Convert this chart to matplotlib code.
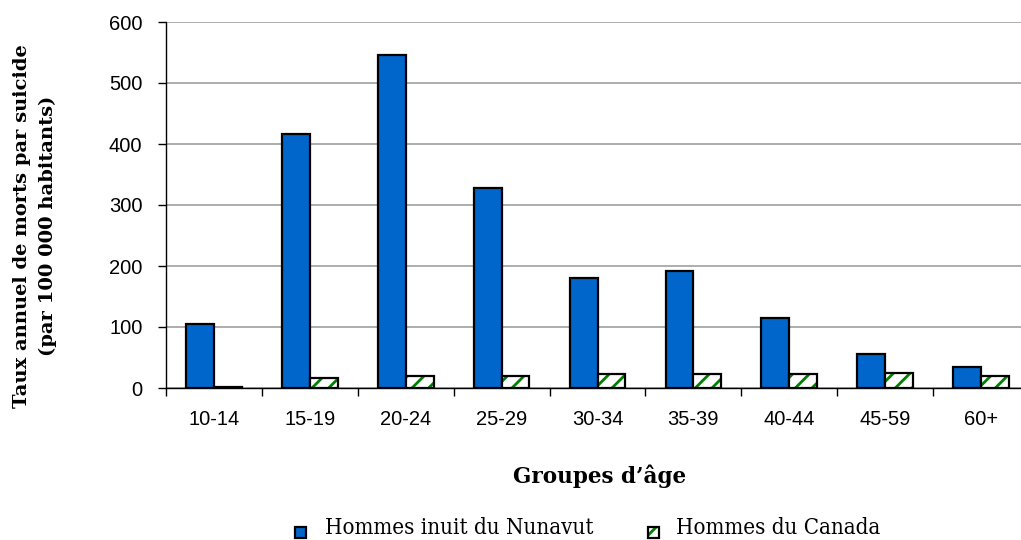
import matplotlib
matplotlib.use("Agg")
import matplotlib.pyplot as plt
import numpy as np
from matplotlib.patches import Rectangle
from matplotlib.font_manager import FontProperties, findfont

categories = ["10-14", "15-19", "20-24", "25-29", "30-34", "35-39", "40-44", "45-59", "60+"]
inuit = [105, 416, 546, 328, 180, 192, 115, 56, 34]
canada = [2, 16, 19, 20, 23, 23, 23, 24, 19]
series_names = ["Hommes inuit du Nunavut", "Hommes du Canada"]
yticks = [0, 100, 200, 300, 400, 500, 600]

BLUE = '#0066CC'
GREEN = '#008000'
plt.rcParams['hatch.linewidth'] = 2.0

cond = findfont(FontProperties(family='DejaVu Serif', stretch='condensed'))
if 'Condensed' in cond:
    legend_font = dict(family='DejaVu Serif', stretch='condensed', size=16)
else:
    legend_font = dict(family='Liberation Serif', size=17)

fig = plt.figure(figsize=(10.21, 5.40), dpi=100)
W, H = 1021, 540
left, right, top, bottom = 166, 1029, 22, 388
ax = fig.add_axes([left / W, 1 - bottom / H, (right - left) / W, (bottom - top) / H])

x = np.arange(len(categories))
bw = 0.29
ax.bar(x - bw / 2, inuit, bw, color=BLUE, edgecolor='black', linewidth=1.6, zorder=3)
ax.bar(x + bw / 2, canada, bw, color='white', edgecolor=GREEN, linewidth=0,
       hatch='//', zorder=3)
ax.bar(x + bw / 2, canada, bw, color='none', edgecolor='black', linewidth=1.6, zorder=4)

ax.set_xlim(-0.5, len(categories) - 0.5)
ax.set_ylim(0, 600)
ax.set_yticks(yticks)
ax.set_yticklabels([str(v) for v in yticks], family='Liberation Sans', fontsize=14.5)
ax.yaxis.grid(True, color='#a0a0a0', linewidth=1.2, zorder=0)
ax.set_axisbelow(True)

ax.set_xticks(np.arange(len(categories) + 1) - 0.5)
ax.set_xticklabels([])
ax.set_xticks(x, minor=True)
ax.set_xticklabels(categories, minor=True, family='Liberation Sans', fontsize=14.5)
ax.tick_params(axis='x', which='minor', length=0, pad=16)
ax.tick_params(axis='x', which='major', length=6, width=1, direction='out')
ax.tick_params(axis='y', length=6, width=1, direction='out', pad=11)

for s in ['top', 'right']:
    ax.spines[s].set_visible(False)
ax.spines['left'].set_linewidth(1)
ax.spines['bottom'].set_linewidth(1)

fig.text(35 / W, 1 - 226 / H, "Taux annuel de morts par suicide\n(par 100 000 habitants)",
         rotation=90, ha='center', va='center', family='DejaVu Serif', fontweight='bold',
         fontsize=14, linespacing=1.55, multialignment='center')
fig.text(600 / W, 1 - 483 / H, "Groupes d\u2019âge", ha='center', va='baseline',
         family='DejaVu Serif', fontweight='bold', fontsize=15.5)

# legend (manual)
def px(xp, yp):
    return xp / W, 1 - yp / H

sq = 11
r1 = Rectangle(px(295, 538), sq / W, sq / H, transform=fig.transFigure,
               facecolor=BLUE, edgecolor='black', linewidth=1.6)
r2a = Rectangle(px(648, 538), sq / W, sq / H, transform=fig.transFigure,
                facecolor='white', edgecolor=GREEN, linewidth=0, hatch='//')
r2b = Rectangle(px(648, 538), sq / W, sq / H, transform=fig.transFigure,
                facecolor='none', edgecolor='black', linewidth=1.6)
for r in (r1, r2a, r2b):
    fig.patches.append(r)
fig.text(*px(325, 534), series_names[0], ha='left', va='baseline', **legend_font)
fig.text(*px(676, 534), series_names[1], ha='left', va='baseline', **legend_font)

fig.savefig("out.png", dpi=100)
